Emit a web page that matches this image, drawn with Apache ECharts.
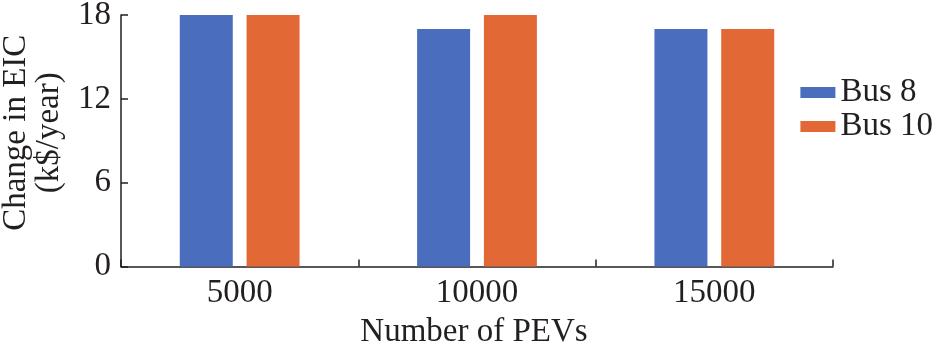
<!DOCTYPE html>
<html>
<head>
<meta charset="utf-8">
<script src="https://cdn.jsdelivr.net/npm/echarts@6/dist/echarts.min.js"></script>
<style>
  html, body { margin: 0; padding: 0; background: #fff; }
  #main { width: 938px; height: 352px; }
</style>
</head>
<body>
<div id="main"></div>
<script>
var chartDom = document.getElementById('main');
var myChart = echarts.init(chartDom);

// data
var categories = ['5000', '10000', '15000'];
var bus8 = [18, 17, 17];
var bus10 = [18, 18, 17];

var font = '"Liberation Serif", "Times New Roman", serif';
var ink = '#231f20';

var option = {
  animation: false,
  textStyle: { fontFamily: font, color: ink },
  grid: { left: 121, right: 105, top: 15, bottom: 85.5, containLabel: false, outerBoundsMode: 'none' },
  legend: {
    right: 0,
    top: 71,
    orient: 'vertical',
    itemWidth: 35,
    itemHeight: 11,
    itemGap: 1,
    icon: 'rect',
    textStyle: { fontFamily: font, fontSize: 33, color: ink },
    data: ['Bus 8', 'Bus 10']
  },
  xAxis: {
    type: 'category',
    data: categories,
    name: 'Number of PEVs',
    nameLocation: 'middle',
    nameGap: 49,
    nameTextStyle: { fontFamily: font, fontSize: 33, color: ink, padding: [0, 6, 0, 0] },
    axisLine: { lineStyle: { color: ink, width: 1.5 } },
    axisTick: { show: true, inside: true, length: 7, lineStyle: { color: ink, width: 1.5 } },
    axisLabel: { fontFamily: font, fontSize: 33, color: ink, margin: 10 }
  },
  yAxis: {
    type: 'value',
    min: 0,
    max: 18,
    interval: 6,
    name: 'Change in EIC\n(k$/year)',
    nameLocation: 'middle',
    nameGap: 55,
    nameRotate: 90,
    nameTextStyle: { fontFamily: font, fontSize: 33, color: ink, lineHeight: 33, padding: [0, 0, 0, 16] },
    axisLine: { show: true, lineStyle: { color: ink, width: 1.5 } },
    axisTick: { show: true, inside: true, length: 7, lineStyle: { color: ink, width: 1.5 } },
    axisLabel: { fontFamily: font, fontSize: 33, color: ink, margin: 10 },
    splitLine: { show: false }
  },
  series: [
    {
      name: 'Bus 8',
      type: 'bar',
      data: bus8,
      barWidth: 53,
      barGap: '26%',
      itemStyle: { color: '#4a6dbd' }
    },
    {
      name: 'Bus 10',
      type: 'bar',
      data: bus10,
      barWidth: 53,
      barGap: '26%',
      itemStyle: { color: '#e26835' }
    }
  ]
};

myChart.setOption(option);
</script>
</body>
</html>
